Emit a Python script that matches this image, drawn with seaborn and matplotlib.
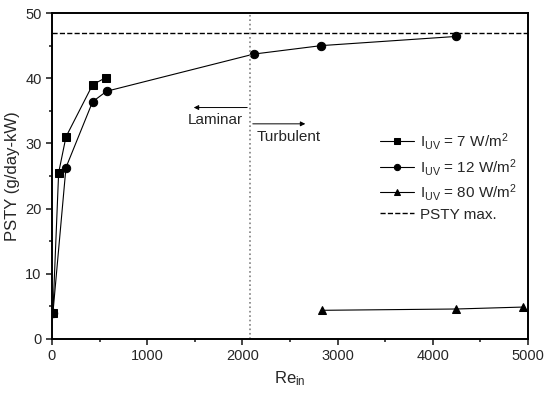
import matplotlib
matplotlib.use('Agg')
import matplotlib.pyplot as plt
import seaborn as sns
import pandas as pd

# Data
re_7 = [10, 70, 147, 427, 567]
psty_7 = [4.0, 25.5, 31.0, 39.0, 40.1]

re_12 = [10, 147, 427, 574, 2120, 2830, 4240]
psty_12 = [4.0, 26.3, 36.4, 38.0, 43.7, 45.0, 46.4]

re_80 = [2836, 4244, 4950]
psty_80 = [4.4, 4.6, 4.9]

psty_max = 47.0
re_transition = 2080

sns.set_style('ticks')
plt.rcParams['font.family'] = ['Liberation Sans', 'DejaVu Sans']
plt.rcParams['mathtext.default'] = 'regular'

fig = plt.figure(figsize=(5.5, 3.94), dpi=100)
ax = fig.add_axes([0.0945, 0.1396, 0.8655, 0.8274])

series = [
    (re_7, psty_7, 's', r'$I_{UV}$ = 7 W/m$^2$'),
    (re_12, psty_12, 'o', r'$I_{UV}$ = 12 W/m$^2$'),
    (re_80, psty_80, '^', r'$I_{UV}$ = 80 W/m$^2$'),
]
for x, y, m, lab in series:
    df = pd.DataFrame({'Re': x, 'PSTY': y})
    sns.lineplot(data=df, x='Re', y='PSTY', ax=ax, color='black', lw=0.8,
                 marker=m, markersize=6, markeredgecolor='black', label=lab,
                 sort=False)

ax.axhline(psty_max, color='black', ls='--', lw=1, label='PSTY max.')
ax.axvline(re_transition, color='grey', ls=':', lw=1.2)

# flow regime arrows
ax.annotate('', xy=(1460, 35.5), xytext=(re_transition, 35.5),
            arrowprops=dict(arrowstyle='-|>', color='black', lw=0.7, mutation_scale=7))
ax.annotate('', xy=(2690, 33.0), xytext=(re_transition, 33.0),
            arrowprops=dict(arrowstyle='-|>', color='black', lw=0.7, mutation_scale=7))
ax.text(1720, 33.6, 'Laminar', ha='center', va='center', fontsize=11)
ax.text(2150, 31.0, 'Turbulent', ha='left', va='center', fontsize=11)

ax.set_xlim(0, 5000)
ax.set_ylim(0, 50)
ax.set_xticks([0, 1000, 2000, 3000, 4000, 5000])
ax.set_xticks(range(500, 5000, 1000), minor=True)
ax.set_yticks([0, 10, 20, 30, 40, 50])
ax.set_yticks(range(5, 50, 10), minor=True)
ax.tick_params(which='major', direction='out', length=4, width=1.2, labelsize=10.5)
ax.tick_params(which='minor', direction='out', length=2.5, width=1.2)
for s in ax.spines.values():
    s.set_linewidth(1.4)
    s.set_color('black')

ax.set_xlabel(r'$Re_{in}$', fontsize=12)
ax.set_ylabel('PSTY (g/day-kW)', fontsize=12)

leg = ax.legend(loc='upper left', bbox_to_anchor=(0.66, 0.68), frameon=False,
                fontsize=11, handlelength=2.2, labelspacing=0.3, handletextpad=0.4,
                markerscale=0.75)

fig.savefig('out.png', dpi=100)
